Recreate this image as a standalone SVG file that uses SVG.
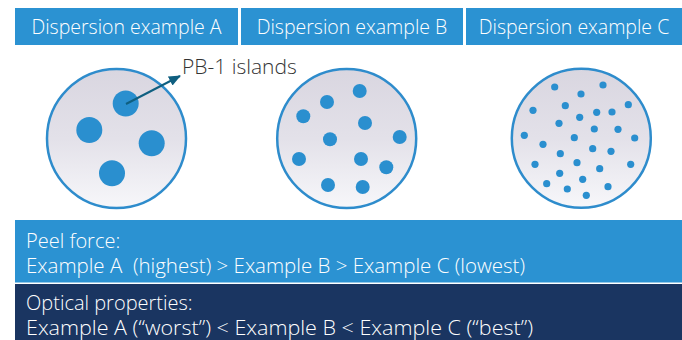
<svg xmlns="http://www.w3.org/2000/svg" width="682" height="340" viewBox="0 0 682 340">
<style>
.hdr{fill:#2b92d2}
.hdrt{font-family:"Open Sans","Liberation Sans",sans-serif;font-size:19.5px;font-weight:300;fill:#ffffff;text-anchor:middle}
.disk{stroke:#2e8ccc;stroke-width:2.5;fill:url(#g)}
.dot{fill:#2a8fcf}
.bt{font-family:"Open Sans","Liberation Sans",sans-serif;font-size:20px;font-weight:300;fill:#ffffff}
.lbl{font-family:"Open Sans","Liberation Sans",sans-serif;font-size:21px;font-weight:300;fill:#333333}
</style>
<defs>
<linearGradient id="g" x1="0" y1="0" x2="0" y2="1">
<stop offset="0" stop-color="#d9d6e0"/>
<stop offset="0.5" stop-color="#e3e1e9"/>
<stop offset="1" stop-color="#f7f7fa"/>
</linearGradient>
<marker id="ah" viewBox="0 0 12 10" refX="11" refY="5" markerWidth="12" markerHeight="10" markerUnits="userSpaceOnUse" orient="auto">
<path d="M0,0 L12,5 L0,10 Z" fill="#0f5f80"/>
</marker>
</defs>

<g id="header-a"><rect class="hdr" x="15" y="8" width="223" height="37"/><text class="hdrt" x="126.5" y="34">Dispersion example A</text></g>
<g id="header-b"><rect class="hdr" x="241" y="8" width="222" height="37"/><text class="hdrt" x="352" y="34">Dispersion example B</text></g>
<g id="header-c"><rect class="hdr" x="466" y="8" width="216" height="37"/><text class="hdrt" x="574" y="34">Dispersion example C</text></g>

<g id="disk-a">
<circle class="disk" cx="116.5" cy="138.5" r="69.5"/>
<circle class="dot" cx="125.7" cy="103.5" r="13"/>
<circle class="dot" cx="89.3" cy="130" r="13"/>
<circle class="dot" cx="151.7" cy="143.3" r="13"/>
<circle class="dot" cx="112" cy="173.3" r="13"/>
</g>

<g id="disk-b">
<circle class="disk" cx="346.7" cy="138.5" r="69.5"/>
<circle class="dot" cx="359.7" cy="91" r="7"/>
<circle class="dot" cx="327" cy="102" r="7"/>
<circle class="dot" cx="303.3" cy="116.3" r="7"/>
<circle class="dot" cx="365" cy="123" r="7"/>
<circle class="dot" cx="330" cy="139.3" r="7"/>
<circle class="dot" cx="399.7" cy="137" r="7"/>
<circle class="dot" cx="299" cy="159" r="7"/>
<circle class="dot" cx="361" cy="159" r="7"/>
<circle class="dot" cx="386.3" cy="167.3" r="7"/>
<circle class="dot" cx="328" cy="185" r="7"/>
<circle class="dot" cx="362.7" cy="187" r="7"/>
</g>

<g id="disk-c">
<circle class="disk" cx="581.3" cy="138.3" r="69.5"/>
<g class="dot">
<circle cx="554.7" cy="87" r="3.6"/>
<circle cx="603" cy="85" r="3.6"/>
<circle cx="581" cy="94" r="3.6"/>
<circle cx="533" cy="110.3" r="3.6"/>
<circle cx="565.3" cy="105.7" r="3.6"/>
<circle cx="628.3" cy="104.7" r="3.6"/>
<circle cx="596.7" cy="112.3" r="3.6"/>
<circle cx="612" cy="112" r="3.6"/>
<circle cx="579.7" cy="117.3" r="3.6"/>
<circle cx="559" cy="123.3" r="3.6"/>
<circle cx="594.3" cy="129" r="3.6"/>
<circle cx="618" cy="129.3" r="3.6"/>
<circle cx="524.3" cy="135.3" r="3.6"/>
<circle cx="574.3" cy="137.7" r="3.6"/>
<circle cx="634.7" cy="138" r="3.6"/>
<circle cx="543" cy="144.3" r="3.6"/>
<circle cx="592.7" cy="148.7" r="3.6"/>
<circle cx="611" cy="151.3" r="3.6"/>
<circle cx="560.3" cy="153.7" r="3.6"/>
<circle cx="535" cy="164.3" r="3.6"/>
<circle cx="577" cy="162.7" r="3.6"/>
<circle cx="599.7" cy="168.7" r="3.6"/>
<circle cx="630.7" cy="164.3" r="3.6"/>
<circle cx="559.7" cy="173.3" r="3.6"/>
<circle cx="582.7" cy="179.3" r="3.6"/>
<circle cx="546.7" cy="183.7" r="3.6"/>
<circle cx="567.3" cy="189" r="3.6"/>
<circle cx="608" cy="186.7" r="3.6"/>
<circle cx="586.3" cy="195.3" r="3.6"/>
</g>
</g>

<g id="label-pb1"><text class="lbl" x="182" y="73.5">PB-1 islands</text></g>

<g id="connectors">
<line x1="126" y1="104" x2="180" y2="76" stroke="#0f5f80" stroke-width="2" marker-end="url(#ah)"/>
</g>

<g id="peel-force">
<rect x="15" y="220" width="667" height="62.5" fill="#2b92d2"/>
<text class="bt" x="26" y="248">Peel force:</text>
<text class="bt" x="26" y="272.5" textLength="499" lengthAdjust="spacingAndGlyphs" xml:space="preserve">Example A  (highest) &gt; Example B &gt; Example C (lowest)</text>
</g>

<g id="optical">
<rect x="15" y="284" width="667" height="56" fill="#1a3561"/>
<text class="bt" x="26" y="310">Optical properties:</text>
<text class="bt" x="26" y="334.5" textLength="507" lengthAdjust="spacingAndGlyphs">Example A (“worst”) &lt; Example B &lt; Example C (“best”)</text>
</g>
</svg>
